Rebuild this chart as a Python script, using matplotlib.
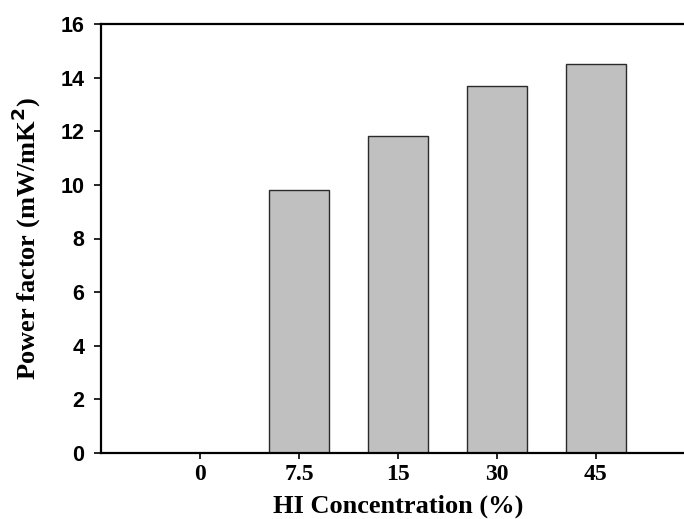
import matplotlib
matplotlib.use("Agg")
import matplotlib.pyplot as plt
from matplotlib import font_manager

# données
concentrations = ["0", "7.5", "15", "30", "45"]
facteur_puissance = [0.0, 9.8, 11.82, 13.68, 14.52]

serif = font_manager.FontProperties(family='Liberation Serif', weight='bold', stretch='normal')
sans = font_manager.FontProperties(family='Liberation Sans', weight='bold', stretch='normal')

fig = plt.figure(figsize=(6.84, 5.19), dpi=100)
ax = fig.add_axes([101 / 684, 1 - 453 / 519, 594 / 684, (453 - 24) / 519])

positions = range(len(concentrations))
ax.bar(positions, facteur_puissance, width=0.6, color='#c0c0c0',
       edgecolor='#2a2a2a', linewidth=1.0)

ax.set_xlim(-1, 5)
ax.set_ylim(0, 16)
ax.set_xticks(list(positions))
ax.set_xticklabels(concentrations, fontproperties=serif, fontsize=17)
ax.set_yticks(range(0, 17, 2))
ax.set_yticklabels([str(v) for v in range(0, 17, 2)], fontproperties=sans, fontsize=15.5)

ax.spines['right'].set_visible(False)
for s in ('left', 'bottom', 'top'):
    ax.spines[s].set_linewidth(1.6)
ax.tick_params(axis='x', direction='out', width=1.2, length=4, pad=4)
ax.tick_params(axis='y', direction='out', width=1.2, length=5, pad=7)

ax.set_xlabel("HI Concentration (%)", fontproperties=serif, fontsize=19)
ax.xaxis.set_label_coords(0.5, -0.098)
ax.set_ylabel("Power factor (mW/mK$^\\mathbf{2}$)", fontproperties=serif, fontsize=19)
ax.yaxis.set_label_coords(-0.098, 0.5)

fig.savefig("out.png", dpi=100)
